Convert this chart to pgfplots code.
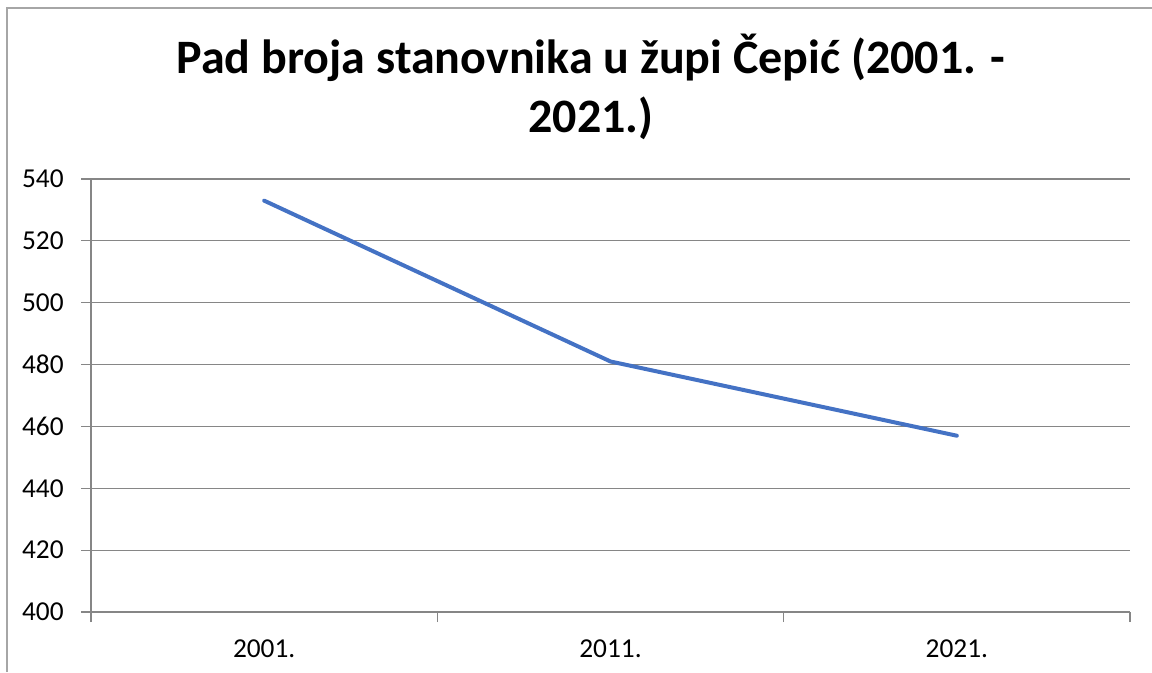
\documentclass[border=0pt]{standalone}
\usepackage{pgfplots}
\pgfplotsset{compat=1.18}
\usepackage{fontspec}
\setmainfont{Carlito}
\definecolor{gridgray}{RGB}{134,134,134}
\definecolor{bordergray}{RGB}{166,166,166}
\definecolor{xlblue}{RGB}{68,114,196}
\begin{document}
\begin{tikzpicture}[x=0.75pt,y=0.75pt]
\useasboundingbox (0,0) rectangle (1152,672);
\draw[bordergray, line width=1.5pt] (7,0) -- (7,664) -- (1152,664);
\node[anchor=base, font=\fontsize{36}{42}\selectfont\bfseries] at (591,598) {Pad broja stanovnika u župi Čepić (2001. -};
\node[anchor=base, font=\fontsize{36}{42}\selectfont\bfseries] at (591,539) {2021.)};
\begin{axis}[
  at={(68.25pt,45pt)}, anchor=south west,
  width=779.25pt, height=324.75pt, scale only axis,
  xmin=-0.5, xmax=2.5, ymin=400, ymax=540,
  ytick={400,420,...,540},
  xtick={0,1,2}, xticklabels={2001.,2011.,2021.},
  minor xtick={-0.5,0.5,1.5,2.5},
  axis x line*=bottom, axis y line*=left,
  axis line style={gridgray, line width=0.9pt, -},
  tick align=outside,
  major tick length=7.5pt, minor tick length=7.5pt,
  tick style={gridgray, line width=0.9pt},
  xtick style={draw=none},
  minor x tick style={draw=gridgray, line width=0.9pt},
  ymajorgrids, grid style={gridgray, line width=0.9pt},
  ticklabel style={font=\fontsize{20.5}{24}\selectfont, text=black},
  /pgf/number format/assume math mode=true,
  yticklabel style={anchor=east, xshift=-9.5pt},
  xticklabel style={anchor=north, yshift=-10pt},
  clip=false,
]
\addplot[xlblue, line width=3pt, line cap=round, line join=round] coordinates {(0,533) (1,481) (2,457)};
\end{axis}
\end{tikzpicture}
\end{document}
